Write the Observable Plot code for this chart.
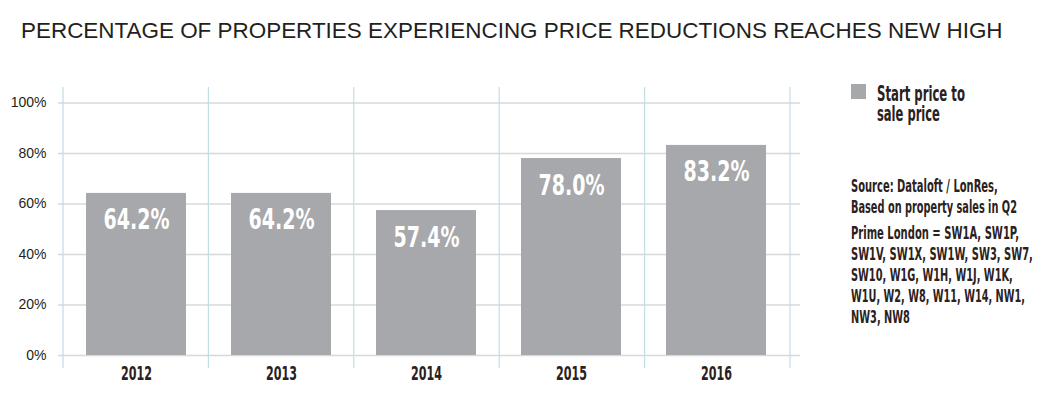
<!DOCTYPE html>
<html>
<head>
<meta charset="utf-8">
<script src="https://cdn.jsdelivr.net/npm/d3@7"></script>
<script src="https://cdn.jsdelivr.net/npm/@observablehq/plot@0.6"></script>
<style>
  html, body { margin: 0; padding: 0; background: #fff; }
  #wrap { position: relative; width: 1044px; height: 398px; overflow: hidden; background: #fff; }
  #title { position: absolute; left: 21px; top: 20px; font-family: "Liberation Sans", Arial, sans-serif; font-size: 22.45px; line-height: 22px; color: #231f20; white-space: nowrap; }
  #chart { position: absolute; left: 0; top: 60px; }
  #side { position: absolute; left: 0; top: 0; }
</style>
</head>
<body>
<div id="wrap">
  <div id="title"></div>
  <div id="chart"></div>
  <svg id="side" width="1044" height="398"></svg>
</div>
<script>
const titleText = "PERCENTAGE OF PROPERTIES EXPERIENCING PRICE REDUCTIONS REACHES NEW HIGH";
const years = ["2012", "2013", "2014", "2015", "2016"];
const values = [64.2, 64.2, 57.4, 78.0, 83.2];
const yTicks = [0, 20, 40, 60, 80, 100];
const legendLines = ["Start price to", "sale price"];
const sourceLines = ["Source: Dataloft / LonRes,", "Based on property sales in Q2"];
const primeLines = [
  "Prime London = SW1A, SW1P,",
  "SW1V, SW1X, SW1W, SW3, SW7,",
  "SW10, W1G, W1H, W1J, W1K,",
  "W1U, W2, W8, W11, W14, NW1,",
  "NW3, NW8"
];

const condensed = "'Liberation Sans Narrow', 'DejaVu Sans Condensed', 'DejaVu Sans', sans-serif";
const barColor = "#a7a8ab";
const darkText = "#2b211d";

document.getElementById("title").textContent = titleText;

const data = years.map((year, i) => ({year, value: values[i]}));

// squeeze a text element horizontally to a target width, around its own anchor
function fitWidth(node, target) {
  const natural = node.getComputedTextLength();
  if (!natural) return;
  const k = target / natural;
  const x = +node.getAttribute("x") || 0;
  const y = +node.getAttribute("y") || 0;
  const t = node.getAttribute("transform") || "";
  node.setAttribute("transform", `${t} translate(${x},${y}) scale(${k},1) translate(${-x},${-y})`.trim());
}

const verticalLines = (index, scales, vals, dims) => {
  const {width, height, marginLeft, marginRight, marginTop, marginBottom} = dims;
  const step = (width - marginLeft - marginRight) / years.length;
  const g = d3.create("svg:g");
  for (let i = 0; i <= years.length; i++) {
    const x = marginLeft + i * step;
    g.append("line")
      .attr("x1", x).attr("x2", x)
      .attr("y1", marginTop - 15.5).attr("y2", height - marginBottom + 13)
      .attr("stroke", "#c2dee5").attr("stroke-width", 1.2);
  }
  return g.node();
};

const chart = Plot.plot({
  width: 820,
  height: 338,
  marginLeft: 63,
  marginRight: 30,
  marginTop: 42.5,
  marginBottom: 43,
  style: {fontFamily: "'Liberation Sans', Arial, sans-serif", fontSize: "14px", color: "#231f20", background: "white", overflow: "visible"},
  x: {domain: years, paddingInner: 0.31, paddingOuter: 0.155, label: null, tickSize: 0, tickPadding: 11},
  y: {domain: [0, 100], ticks: yTicks, tickFormat: d => d + "%", label: null, tickSize: 0, tickPadding: 17},
  marks: [
    Plot.ruleY(yTicks, {stroke: "#d6d8da", strokeWidth: 1.4, insetLeft: -5, insetRight: -10}),
    verticalLines,
    Plot.barY(data, {x: "year", y: "value", fill: barColor}),
    Plot.text(data, {x: "year", y: "value", text: d => d.value.toFixed(1) + "%", dy: 27, fill: "white", fontSize: 28, fontWeight: "bold", fontFamily: condensed})
  ]
});
document.getElementById("chart").appendChild(chart);

const svgSel = d3.select(chart);
svgSel.selectAll('g[aria-label="text"] text').each(function() { fitWidth(this, 66); });
svgSel.selectAll("text").filter(function() { return years.includes(this.textContent); })
  .attr("font-family", condensed).attr("font-size", 19.5).attr("font-weight", "bold")
  .attr("fill", darkText).style("fill", darkText)
  .each(function() { fitWidth(this, 31); });

// Side legend and notes
const side = d3.select("#side");
side.append("rect").attr("x", 851).attr("y", 84).attr("width", 15).attr("height", 15).attr("fill", barColor);

function addLine(text, x, y, size, width) {
  const node = side.append("text").text(text)
    .attr("x", x).attr("y", y)
    .attr("font-family", condensed).attr("font-size", size).attr("font-weight", "bold")
    .attr("fill", darkText).node();
  fitWidth(node, width);
}
const legendWidths = [88, 63];
legendLines.forEach((t, i) => addLine(t, 877, 101 + i * 20, 21, legendWidths[i]));
const sourceWidths = [147, 166];
sourceLines.forEach((t, i) => addLine(t, 851, 192 + i * 21, 17, sourceWidths[i]));
const primeWidths = [168, 182, 162, 174, 59];
primeLines.forEach((t, i) => addLine(t, 851, 239 + i * 21, 17, primeWidths[i]));
</script>
</body>
</html>
